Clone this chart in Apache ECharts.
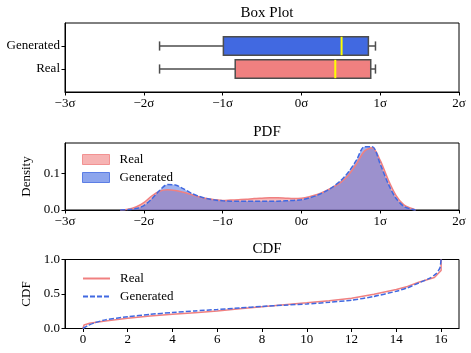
<!DOCTYPE html>
<html>
<head>
<meta charset="utf-8">
<script src="https://cdn.jsdelivr.net/npm/echarts@6/dist/echarts.min.js"></script>
<style>
html, body { margin: 0; padding: 0; background: #fff; }
#main { width: 471px; height: 353px; }
</style>
</head>
<body>
<div id="main"></div>
<script>
// box plot: [lower whisker, q1, median, q3, upper whisker], in sigma
var boxNames = ['Real', 'Generated']
var boxReal = [-1.80, -0.84, 0.43, 0.88, 0.94]
var boxGen = [-1.80, -0.99, 0.51, 0.85, 0.94]

// density curves
var pdfX = [-2.3, -2.2, -2.1, -2.0, -1.9, -1.8, -1.7, -1.6, -1.5, -1.4, -1.3, -1.2, -1.1, -1.0,
  -0.9, -0.8, -0.7, -0.6, -0.5, -0.4, -0.3, -0.2, -0.1, 0.0, 0.1, 0.2, 0.3, 0.4, 0.5, 0.6,
  0.7, 0.8, 0.9, 1.0, 1.1, 1.2, 1.3, 1.4, 1.45]
var pdfReal = [0, 0.002, 0.008, 0.020, 0.038, 0.051, 0.055, 0.053, 0.048, 0.042, 0.036, 0.031, 0.028, 0.026,
  0.027, 0.028, 0.029, 0.031, 0.032, 0.033, 0.033, 0.032, 0.031, 0.032, 0.036, 0.042, 0.051, 0.062, 0.075, 0.096,
  0.126, 0.160, 0.169, 0.135, 0.083, 0.040, 0.014, 0.004, 0]
var pdfGen = [0, 0.001, 0.004, 0.012, 0.030, 0.053, 0.069, 0.068, 0.058, 0.046, 0.037, 0.031, 0.027, 0.025,
  0.024, 0.024, 0.024, 0.024, 0.024, 0.024, 0.024, 0.025, 0.026, 0.028, 0.033, 0.040, 0.050, 0.063, 0.080, 0.104,
  0.136, 0.172, 0.172, 0.125, 0.072, 0.032, 0.010, 0.002, 0]

// cumulative curves
var cdfRealX = [0, 0.05, 0.3, 1, 2, 3, 4, 5, 6, 7, 8, 9, 10, 11, 12, 13, 14, 14.5, 15, 15.7, 16, 16]
var cdfRealY = [0, 0.05, 0.075, 0.11, 0.148, 0.18, 0.205, 0.23, 0.255, 0.285, 0.315, 0.345, 0.372, 0.403,
  0.437, 0.495, 0.565, 0.61, 0.67, 0.74, 0.84, 1.0]
var cdfGenX = [0, 0.2, 0.5, 1, 2, 3, 4, 5, 6, 7, 8, 9, 10, 11, 12, 13, 14, 14.5, 15, 15.5, 15.8, 15.95, 16]
var cdfGenY = [0, 0.04, 0.08, 0.125, 0.17, 0.205, 0.232, 0.255, 0.275, 0.298, 0.32, 0.338, 0.355, 0.38,
  0.41, 0.465, 0.54, 0.59, 0.66, 0.73, 0.8, 0.88, 1.0]

var cdfTicks = [0, 2, 4, 6, 8, 10, 12, 14, 16]

var RED = '#F08080'
var BLUE = '#4169E1'
var FONT = 'Liberation Serif'

function pairs(xs, ys) {
  var out = []
  for (var i = 0; i < xs.length; i++) out.push([xs[i], ys[i]])
  return out
}

function sigmaLabel(v) {
  return (v < 0 ? '\u2212' + Math.abs(v) : v) + '\u03c3'
}

var label = { color: '#000', fontFamily: FONT, fontSize: 13 }
var tick = { length: 3.5, lineStyle: { color: '#000', width: 1 } }
var line = { onZero: false, lineStyle: { color: '#000', width: 1 } }

function renderBox(params, api) {
  var pos = api.value(0)
  var lo = api.coord([api.value(1), pos])
  var q1 = api.coord([api.value(2), pos])
  var med = api.coord([api.value(3), pos])
  var q3 = api.coord([api.value(4), pos])
  var hi = api.coord([api.value(5), pos])
  var h = api.size([0, 0.8])[1] / 2
  var cap = h / 2
  var y = lo[1]
  var edge = { stroke: '#4d4d4d', lineWidth: 1.5 }
  return {
    type: 'group',
    children: [
      { type: 'line', shape: { x1: lo[0], y1: y, x2: q1[0], y2: y }, style: edge },
      { type: 'line', shape: { x1: q3[0], y1: y, x2: hi[0], y2: y }, style: edge },
      { type: 'line', shape: { x1: lo[0], y1: y - cap, x2: lo[0], y2: y + cap }, style: edge },
      { type: 'line', shape: { x1: hi[0], y1: y - cap, x2: hi[0], y2: y + cap }, style: edge },
      { type: 'rect', shape: { x: q1[0], y: y - h, width: q3[0] - q1[0], height: 2 * h },
        style: { fill: api.visual('color'), stroke: '#4d4d4d', lineWidth: 1.5 } },
      { type: 'line', shape: { x1: med[0], y1: y - h, x2: med[0], y2: y + h },
        style: { stroke: '#FFFF00', lineWidth: 2 } }
    ]
  }
}

var myChart = echarts.init(document.getElementById('main'))
var option = {
  animation: false,
  backgroundColor: '#fff',
  title: [
    { text: 'Box Plot', left: 262, top: 1, textAlign: 'center', textStyle: { fontFamily: FONT, fontSize: 15, fontWeight: 'normal', color: '#000' } },
    { text: 'PDF', left: 262, top: 120, textAlign: 'center', textStyle: { fontFamily: FONT, fontSize: 15, fontWeight: 'normal', color: '#000' } },
    { text: 'CDF', left: 262, top: 237, textAlign: 'center', textStyle: { fontFamily: FONT, fontSize: 15, fontWeight: 'normal', color: '#000' } }
  ],
  legend: [
    {
      left: 77, top: 148, orient: 'vertical', itemWidth: 27, itemHeight: 10, itemGap: 5,
      textStyle: { fontFamily: FONT, fontSize: 13, color: '#000', padding: [0, 0, 0, 5] },
      formatter: function (n) { return n.split(':')[1] },
      data: [
        { name: 'pdf:Real', icon: 'rect', itemStyle: { color: 'rgba(240,128,128,0.6)', borderColor: 'rgba(240,128,128,0.8)', borderWidth: 1 } },
        { name: 'pdf:Generated', icon: 'rect', itemStyle: { color: 'rgba(65,105,225,0.6)', borderColor: 'rgba(65,105,225,0.8)', borderWidth: 1 } }
      ]
    },
    {
      left: 77, top: 267, orient: 'vertical', itemWidth: 27, itemHeight: 10, itemGap: 5,
      textStyle: { fontFamily: FONT, fontSize: 13, color: '#000', padding: [0, 0, 0, 5] },
      formatter: function (n) { return n.split(':')[1] },
      itemStyle: { opacity: 0 },
      data: ['cdf:Real', 'cdf:Generated']
    }
  ],
  grid: [
    { left: 65, right: 12, top: 23, height: 69, show: true, borderColor: '#000', borderWidth: 1 },
    { left: 65, right: 12, top: 143, height: 67, show: true, borderColor: '#000', borderWidth: 1 },
    { left: 65, right: 12, top: 259.5, height: 69, show: true, borderColor: '#000', borderWidth: 1 }
  ],
  xAxis: [
    { type: 'value', gridIndex: 0, min: -3, max: 2, interval: 1, axisLine: line, axisTick: tick,
      splitLine: { show: false }, axisLabel: Object.assign({ margin: 5, formatter: sigmaLabel }, label) },
    { type: 'value', gridIndex: 1, min: -3, max: 2, interval: 1, axisLine: line, axisTick: tick,
      splitLine: { show: false }, axisLabel: Object.assign({ margin: 5, formatter: sigmaLabel }, label) },
    { type: 'value', gridIndex: 2, min: -0.8, max: 16.8, axisLine: line,
      axisTick: Object.assign({ customValues: cdfTicks }, tick),
      splitLine: { show: false }, axisLabel: Object.assign({ margin: 5, customValues: cdfTicks }, label) }
  ],
  yAxis: [
    { type: 'value', gridIndex: 0, min: 0, max: 3, axisLine: line,
      axisTick: Object.assign({ customValues: [1, 2] }, tick), splitLine: { show: false },
      axisLabel: Object.assign({ margin: 5, customValues: [1, 2], formatter: function (v) { return boxNames[v - 1] } }, label) },
    { type: 'value', gridIndex: 1, min: 0, max: 0.182, axisLine: line,
      axisTick: Object.assign({ customValues: [0, 0.1] }, tick), splitLine: { show: false },
      axisLabel: Object.assign({ margin: 5, customValues: [0, 0.1], formatter: function (v) { return v.toFixed(1) } }, label),
      name: 'Density', nameLocation: 'middle', nameGap: 26, nameTextStyle: label },
    { type: 'value', gridIndex: 2, min: 0, max: 1, interval: 0.5, axisLine: line, axisTick: tick,
      splitLine: { show: false },
      axisLabel: Object.assign({ margin: 5, formatter: function (v) { return v.toFixed(1) } }, label),
      name: 'CDF', nameLocation: 'middle', nameGap: 26, nameTextStyle: label }
  ],
  series: [
    {
      type: 'custom', xAxisIndex: 0, yAxisIndex: 0, renderItem: renderBox,
      encode: { x: [1, 2, 3, 4, 5], y: 0 },
      data: [
        { value: [1].concat(boxReal), itemStyle: { color: RED } },
        { value: [2].concat(boxGen), itemStyle: { color: BLUE } }
      ]
    },
    {
      name: 'pdf:Real', type: 'line', xAxisIndex: 1, yAxisIndex: 1, data: pairs(pdfX, pdfReal),
      symbol: 'none', smooth: 0.3, itemStyle: { color: RED },
      lineStyle: { color: RED, width: 1.5 }, areaStyle: { color: RED, opacity: 0.55 }
    },
    {
      name: 'pdf:Generated', type: 'line', xAxisIndex: 1, yAxisIndex: 1, data: pairs(pdfX, pdfGen),
      symbol: 'none', smooth: 0.3, itemStyle: { color: BLUE },
      lineStyle: { color: BLUE, width: 1.5, type: [5, 2] }, areaStyle: { color: BLUE, opacity: 0.5 }
    },
    {
      name: 'cdf:Real', type: 'line', xAxisIndex: 2, yAxisIndex: 2, data: pairs(cdfRealX, cdfRealY),
      symbol: 'none', itemStyle: { color: RED }, lineStyle: { color: RED, width: 1.5 }
    },
    {
      name: 'cdf:Generated', type: 'line', xAxisIndex: 2, yAxisIndex: 2, data: pairs(cdfGenX, cdfGenY),
      symbol: 'none', smooth: 0.2, itemStyle: { color: BLUE }, lineStyle: { color: BLUE, width: 1.5, type: [5, 2] }
    }
  ]
}
myChart.setOption(option)
</script>
</body>
</html>
